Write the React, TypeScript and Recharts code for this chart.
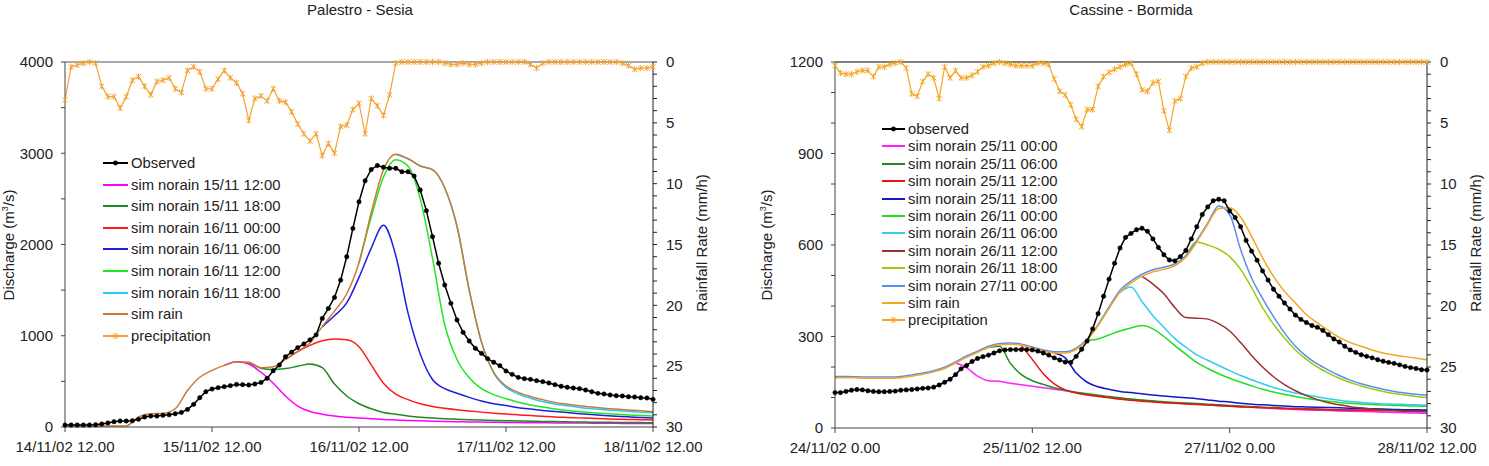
import React from 'react';
import { LineChart, Line, XAxis, YAxis, ReferenceLine } from 'recharts';

const FONT = '"Liberation Sans", Arial, Helvetica, sans-serif';
const TEXT = '#222';

// pads a model run with nulls for the 2-hourly slots before it starts
function after(n: number, values: number[]): (number | null)[] {
  const pad: (number | null)[] = Array.from({ length: n }, () => null);
  return pad.concat(values);
}

// ---------------- Palestro - Sesia (hourly, from 14/11/02 12.00) ----------------
const palestroTickHours = [0, 24, 48, 72, 96];
const palestroTickLabels = ['14/11/02 12.00', '15/11/02 12.00', '16/11/02 12.00', '17/11/02 12.00', '18/11/02 12.00'];

const palestroObserved = [
  22, 22, 22, 22, 22, 25, 33, 44, 58, 66,
  66, 69, 84, 110, 120, 120, 128, 135, 146, 160,
  193, 248, 321, 387, 416, 431, 442, 453, 467, 464,
  460, 471, 489, 533, 617, 679, 770, 820, 870, 910,
  955, 1010, 1190, 1300, 1420, 1610, 1866, 2176, 2468, 2698,
  2822, 2865, 2846, 2835, 2835, 2798, 2798, 2750, 2597, 2371,
  2086, 1794, 1556, 1355, 1173, 1037, 942, 862, 807, 749,
  709, 672, 614, 577, 544, 530, 522, 508, 497, 482,
  464, 446, 435, 427, 420, 405, 387, 369, 362, 351,
  343, 340, 332, 329, 321, 318, 303,
];

const palestroPrecip = [
  3.1, 0.4, 0.25, 0.1, 0, 0.1, 2.0, 2.85, 2.85, 3.8,
  2.85, 1.5, 1.2, 2.0, 2.7, 1.6, 1.5, 1.3, 2.2, 2.5,
  0.7, 0.4, 0.8, 2.2, 2.2, 1.4, 0.7, 1.3, 1.7, 2.6,
  4.8, 3.0, 2.8, 3.2, 2.2, 3.2, 3.3, 4.1, 5.1, 5.9,
  6.5, 5.9, 7.7, 6.7, 7.5, 5.3, 5.2, 3.9, 3.4, 5.9,
  3.0, 3.6, 4.4, 2.7, 0.1, 0, 0, 0, 0, 0,
  0, 0, 0.1, 0.2, 0.2, 0.1, 0.2, 0.2, 0.1, 0,
  0, 0, 0, 0, 0, 0, 0.2, 0.5, 0.1, 0,
  0, 0, 0, 0, 0, 0, 0, 0, 0, 0,
  0, 0.1, 0.3, 0.6, 0.5, 0.5, 0.4,
];

// model runs, one value every 2 hours
const palestroSimRain = [
  10, 10, 10, 10, 10, 12, 110, 145, 150, 200,
  400, 545, 620, 675, 715, 710, 650, 660, 740, 830,
  920, 1100, 1270, 1460, 1800, 2350, 2820, 2990, 2940, 2860,
  2820, 2620, 2200, 1500, 930, 600, 450, 380, 335, 300,
  270, 250, 232, 218, 206, 196, 186, 177, 168,
];
const palestroNorain1512 = after(13, [
  675, 715, 690, 600, 480, 340, 230, 170, 140, 120,
  108, 98, 90, 82, 77, 72, 68, 64, 60, 58,
  56, 54, 52, 50, 48, 47, 46, 45, 44, 43,
  42, 41, 40, 39, 38, 37,
]);
const palestroNorain1518 = after(15, [
  710, 645, 630, 640, 665, 690, 650, 470, 340, 255,
  200, 160, 140, 120, 108, 98, 90, 85, 80, 76,
  72, 69, 66, 64, 61, 59, 57, 55, 53, 52,
  50, 49, 48, 47,
]);
const palestroNorain1600 = after(18, [
  740, 825, 895, 945, 965, 955, 880, 680, 480, 360,
  300, 255, 225, 205, 188, 175, 163, 152, 142, 133,
  125, 118, 110, 105, 100, 95, 90, 86, 83, 80,
  77,
]);
const palestroNorain1606 = after(21, [
  1100, 1220, 1360, 1640, 1960, 2210, 1880, 1250, 800, 520,
  420, 370, 325, 285, 255, 235, 212, 196, 182, 170,
  158, 146, 136, 127, 119, 111, 104, 98,
]);
const palestroNorain1612 = after(24, [
  1800, 2300, 2740, 2930, 2860, 2500, 1850, 1120, 740, 540,
  420, 355, 310, 272, 242, 218, 198, 182, 168, 157,
  147, 139, 132, 126, 120,
]);
const palestroNorain1618 = after(27, [
  2990, 2940, 2860, 2820, 2620, 2200, 1500, 930, 590, 435,
  362, 316, 280, 252, 232, 215, 201, 190, 180, 171,
  163, 155,
]);

// ---------------- Cassine - Bormida (hourly, from 24/11/02 0.00) ----------------
const cassineTickHours = [0, 36, 72, 108];
const cassineTickLabels = ['24/11/02 0.00', '25/11/02 12.00', '27/11/02 0.00', '28/11/02 12.00'];

const cassineObserved = [
  116, 116, 120, 124, 126, 125, 122, 120, 119, 119,
  120, 121, 124, 125, 126, 128, 130, 131, 134, 141,
  150, 160, 175, 194, 205, 218, 228, 234, 239, 246,
  253, 256, 257, 257, 257, 257, 256, 252, 246, 239,
  230, 223, 216, 215, 235, 258, 285, 325, 375, 432,
  488, 540, 590, 625, 638, 650, 655, 645, 620, 592,
  568, 551, 548, 562, 582, 620, 660, 700, 725, 745,
  750, 745, 712, 690, 660, 615, 580, 550, 515, 485,
  455, 432, 410, 390, 370, 356, 346, 336, 330, 320,
  306, 292, 282, 268, 256, 248, 240, 235, 230, 224,
  219, 215, 212, 207, 202, 198, 195, 191, 190,
];

const cassinePrecip = [
  0.3, 0.9, 1.0, 1.0, 0.8, 0.7, 0.7, 1.2, 0.4, 0.4,
  0.2, 0.1, 0, 0.5, 2.6, 2.8, 1.6, 1.0, 1.3, 3.0,
  0.4, 1.3, 0.7, 1.3, 1.3, 1.1, 0.8, 0.4, 0.3, 0.1,
  0, 0.1, 0.2, 0.3, 0.3, 0.3, 0.3, 0.1, 0.1, 0.2,
  1.4, 2.4, 2.7, 3.5, 4.7, 5.3, 3.9, 3.9, 2.0, 1.2,
  0.85, 0.6, 0.4, 0.2, 0.1, 1.0, 2.3, 2.4, 1.7, 1.6,
  4.0, 5.6, 3.2, 3.0, 1.2, 0.5, 0.4, 0.1, 0, 0,
  0, 0, 0, 0, 0, 0, 0, 0, 0, 0,
  0, 0, 0, 0, 0, 0, 0, 0, 0, 0,
  0, 0, 0, 0, 0, 0, 0, 0, 0, 0,
  0, 0, 0, 0, 0, 0, 0, 0, 0,
];

const cassineSimRain = [
  165, 165, 164, 163, 163, 163, 165, 170, 176, 184,
  195, 213, 232, 248, 264, 273, 275, 271, 262, 252,
  246, 246, 258, 288, 335, 392, 445, 475, 497, 512,
  520, 532, 560, 610, 668, 720, 722, 692, 628, 558,
  497, 448, 410, 372, 345, 320, 297, 280, 268, 256,
  246, 239, 234, 229, 224,
];
const cassineNorain2500 = after(11, [
  213, 198, 170, 155, 153, 147, 142, 137, 132, 127,
  122, 116, 111, 106, 101, 97, 93, 90, 87, 84,
  82, 80, 78, 76, 74, 72, 70, 68, 66, 64,
  62, 61, 59, 58, 57, 56, 55, 54, 53, 52,
  51, 50, 49, 48,
]);
const cassineNorain2506 = after(14, [
  264, 268, 212, 175, 155, 143, 132, 124, 117, 112,
  107, 103, 99, 95, 92, 89, 86, 84, 82, 80,
  78, 76, 74, 72, 70, 68, 67, 65, 64, 63,
  62, 61, 60, 59, 58, 58, 57, 57, 56, 56,
  55,
]);
const cassineNorain2512 = after(17, [
  271, 225, 178, 145, 125, 115, 108, 103, 99, 94,
  91, 88, 85, 83, 81, 79, 77, 75, 73, 71,
  69, 68, 66, 65, 64, 63, 62, 61, 60, 59,
  59, 58, 58, 57, 57, 56, 56, 55,
]);
const cassineNorain2518 = after(20, [
  246, 230, 180, 150, 135, 127, 120, 116, 112, 108,
  105, 102, 99, 96, 92, 88, 85, 81, 78, 76,
  74, 72, 70, 69, 68, 67, 66, 65, 64, 63,
  62, 61, 60, 60, 59,
]);
const cassineNorain2600 = after(23, [
  288, 292, 305, 318, 328, 336, 325, 300, 270, 242,
  215, 195, 178, 163, 150, 138, 127, 118, 110, 103,
  97, 92, 88, 84, 81, 79, 77, 75, 74, 73,
  72, 71,
]);
const cassineNorain2606 = after(26, [
  445, 462, 415, 368, 330, 293, 265, 240, 222, 205,
  188, 172, 158, 145, 133, 123, 115, 108, 102, 96,
  91, 87, 84, 81, 79, 78, 77, 76, 75,
]);
const cassineNorain2612 = after(28, [
  497, 472, 440, 395, 362, 360, 357, 342, 318, 280,
  238, 200, 168, 142, 122, 106, 93, 83, 76, 70,
  66, 62, 59, 57, 55, 54, 53,
]);
const cassineNorain2618 = after(32, [
  560, 610, 600, 586, 562, 520, 460, 395, 340, 295,
  256, 225, 200, 180, 163, 149, 138, 128, 120, 113,
  108, 103, 100,
]);
const cassineNorain2700 = [
  169, 169, 168, 167, 167, 167, 169, 174, 180, 188,
  199, 217, 236, 252, 268, 277, 279, 275, 266, 256,
  250, 250, 262, 292, 339, 397, 452, 482, 504, 519,
  527, 538, 565, 615, 672, 728, 700, 585, 492, 425,
  365, 312, 268, 235, 210, 190, 172, 157, 145, 135,
  127, 120, 115, 111, 108,
];

type Sim = { key: string; name: string; color: string; values: (number | null)[] };

const palestroSims: Sim[] = [
  { key: 's1', name: 'sim norain 15/11 12:00', color: '#FF00FF', values: palestroNorain1512 },
  { key: 's2', name: 'sim norain 15/11 18:00', color: '#1F8A1F', values: palestroNorain1518 },
  { key: 's3', name: 'sim norain 16/11 00:00', color: '#FF1A1A', values: palestroNorain1600 },
  { key: 's4', name: 'sim norain 16/11 06:00', color: '#1E1EDC', values: palestroNorain1606 },
  { key: 's5', name: 'sim norain 16/11 12:00', color: '#22E622', values: palestroNorain1612 },
  { key: 's6', name: 'sim norain 16/11 18:00', color: '#22CCF5', values: palestroNorain1618 },
  { key: 'sr', name: 'sim rain', color: '#C97A37', values: palestroSimRain },
];

const cassineSims: Sim[] = [
  { key: 's1', name: 'sim norain 25/11 00:00', color: '#FF22FF', values: cassineNorain2500 },
  { key: 's2', name: 'sim norain 25/11 06:00', color: '#1F8A1F', values: cassineNorain2506 },
  { key: 's3', name: 'sim norain 25/11 12:00', color: '#EE1111', values: cassineNorain2512 },
  { key: 's4', name: 'sim norain 25/11 18:00', color: '#1515CC', values: cassineNorain2518 },
  { key: 's5', name: 'sim norain 26/11 00:00', color: '#22DD22', values: cassineNorain2600 },
  { key: 's6', name: 'sim norain 26/11 06:00', color: '#33CCEE', values: cassineNorain2606 },
  { key: 's7', name: 'sim norain 26/11 12:00', color: '#9B3030', values: cassineNorain2612 },
  { key: 's8', name: 'sim norain 26/11 18:00', color: '#99CC11', values: cassineNorain2618 },
  { key: 's9', name: 'sim norain 27/11 00:00', color: '#5E8CEB', values: cassineNorain2700 },
  { key: 'sr', name: 'sim rain', color: '#F5A623', values: cassineSimRain },
];

type Row = Record<string, number | null>;

function buildRows(observed: number[], precip: number[], sims: Sim[]): Row[] {
  return observed.map((q, h) => {
    const row: Row = { h, obs: q, rain: precip[h] };
    sims.forEach((s) => {
      row[s.key] = h % 2 === 0 ? s.values[h / 2] ?? null : null;
    });
    return row;
  });
}

// Excel-style star marker for the rainfall series
const starDot = (color: string) => (p: any) => {
  const { cx, cy, index } = p;
  if (cx == null || cy == null) return <g key={`st-${index}`} />;
  const r = 2.6;
  return (
    <path
      key={`st-${index}`}
      d={`M${cx - r},${cy - r}L${cx + r},${cy + r}M${cx - r},${cy + r}L${cx + r},${cy - r}M${cx},${cy - r - 0.6}L${cx},${cy + r + 0.6}`}
      stroke={color}
      strokeWidth={1}
      fill="none"
    />
  );
};

interface PanelProps {
  left: number;
  width: number;
  plotLeft: number;
  plotRight: number;
  plotBottom: number;
  title: string;
  titleX: number;
  observedName: string;
  observed: number[];
  precip: number[];
  precipColor: string;
  sims: Sim[];
  xMax: number;
  xTicks: number[];
  xLabels: string[];
  qMax: number;
  qStep: number;
  qLabelStep: number;
  topColor: string;
  legendX: number;
  legendY: number;
  legendStep: number;
  legendLine: number;
  qLabelX: number;
  rainLabelX: number;
}

const tickStyle = { fontSize: 15, fill: TEXT, fontFamily: FONT };

function Panel(p: PanelProps) {
  const rows = buildRows(p.observed, p.precip, p.sims);
  const qTicks: number[] = [];
  for (let v = 0; v <= p.qMax; v += p.qStep) qTicks.push(v);
  const rainTicks = Array.from({ length: 31 }, (_, i) => i);
  const W_LEFT = 60;
  const W_RIGHT = 50;
  const H_X = 30;

  const legendItems = [
    { name: p.observedName, color: '#000', kind: 'obs' },
    ...p.sims.map((s) => ({ name: s.name, color: s.color, kind: 'line' })),
    { name: 'precipitation', color: p.precipColor, kind: 'star' },
  ];

  return (
    <div style={{ position: 'absolute', left: p.left, top: 0, width: p.width, height: 466 }}>
      <div
        style={{
          position: 'absolute', left: p.titleX - p.left, top: 1, transform: 'translateX(-50%)',
          fontSize: 15, color: TEXT, whiteSpace: 'nowrap', fontFamily: FONT,
        }}
      >
        {p.title}
      </div>

      <LineChart
        width={p.width}
        height={466}
        data={rows}
        margin={{
          top: 62,
          left: p.plotLeft - p.left - W_LEFT,
          right: p.left + p.width - p.plotRight - W_RIGHT,
          bottom: 466 - p.plotBottom - H_X,
        }}
      >
        <XAxis
          dataKey="h"
          type="number"
          domain={[0, p.xMax]}
          ticks={p.xTicks}
          interval={0}
          tickFormatter={(v: number) => p.xLabels[p.xTicks.indexOf(v)] ?? ''}
          height={H_X}
          tickSize={5}
          tickMargin={9}
          axisLine={{ stroke: '#444' }}
          tickLine={{ stroke: '#444' }}
          tick={tickStyle}
        />
        <YAxis
          yAxisId="q"
          domain={[0, p.qMax]}
          ticks={qTicks}
          interval={0}
          tickFormatter={(v: number) => (v % p.qLabelStep === 0 ? String(v) : '')}
          width={W_LEFT}
          tickSize={4}
          tickMargin={8}
          axisLine={{ stroke: '#444' }}
          tickLine={{ stroke: '#444' }}
          tick={tickStyle}
        />
        <YAxis
          yAxisId="rain"
          orientation="right"
          reversed
          domain={[0, 30]}
          ticks={rainTicks}
          interval={0}
          tickFormatter={(v: number) => (v % 5 === 0 ? String(v) : '')}
          width={W_RIGHT}
          tickSize={4}
          tickMargin={9}
          axisLine={{ stroke: '#222' }}
          tickLine={{ stroke: '#222' }}
          tick={tickStyle}
        />
        <ReferenceLine yAxisId="q" y={p.qMax} stroke={p.topColor} strokeWidth={1.5} />

        {p.sims.map((s) => (
          <Line
            key={s.key}
            yAxisId="q"
            dataKey={s.key}
            type="monotone"
            stroke={s.color}
            strokeWidth={1.5}
            dot={false}
            activeDot={false}
            connectNulls
            isAnimationActive={false}
          />
        ))}
        <Line
          yAxisId="q"
          dataKey="obs"
          type="linear"
          stroke="#000"
          strokeWidth={1.5}
          dot={{ r: 2.2, fill: '#000', stroke: '#000', strokeWidth: 0.5 }}
          activeDot={false}
          isAnimationActive={false}
        />
        <Line
          yAxisId="rain"
          dataKey="rain"
          type="linear"
          stroke={p.precipColor}
          strokeWidth={1.2}
          dot={starDot(p.precipColor)}
          activeDot={false}
          isAnimationActive={false}
        />
      </LineChart>

      {/* legend */}
      {legendItems.map((it, i) => (
        <div
          key={it.name}
          style={{
            position: 'absolute',
            left: p.legendX - p.left,
            top: p.legendY + i * p.legendStep - 8,
            height: 16,
            display: 'flex',
            alignItems: 'center',
          }}
        >
          <svg width={p.legendLine} height={10} style={{ display: 'block' }}>
            <line x1={0} y1={5} x2={p.legendLine} y2={5} stroke={it.color} strokeWidth={2} />
            {it.kind === 'obs' && <circle cx={p.legendLine / 2} cy={5} r={2.4} fill="#000" />}
            {it.kind === 'star' && (
              <path
                d={`M${p.legendLine / 2 - 2.6},2.4L${p.legendLine / 2 + 2.6},7.6M${p.legendLine / 2 - 2.6},7.6L${p.legendLine / 2 + 2.6},2.4M${p.legendLine / 2},1.8L${p.legendLine / 2},8.2`}
                stroke={it.color}
                strokeWidth={1}
              />
            )}
          </svg>
          <span style={{ marginLeft: 3, fontSize: 14.8, color: TEXT, fontFamily: FONT, whiteSpace: 'nowrap', lineHeight: '16px' }}>
            {it.name}
          </span>
        </div>
      ))}

      {/* axis titles */}
      <div
        style={{
          position: 'absolute', left: p.qLabelX - p.left, top: 245,
          transform: 'translate(-50%, -50%) rotate(-90deg)',
          fontSize: 15, color: TEXT, whiteSpace: 'nowrap', fontFamily: FONT, lineHeight: '16px',
        }}
      >
        Discharge (m<sup style={{ fontSize: 9, lineHeight: 0 }}>3</sup>/s)
      </div>
      <div
        style={{
          position: 'absolute', left: p.rainLabelX - p.left, top: 243,
          transform: 'translate(-50%, -50%) rotate(-90deg)',
          fontSize: 15, color: TEXT, whiteSpace: 'nowrap', fontFamily: FONT, lineHeight: '16px',
        }}
      >
        Rainfall Rate (mm/h)
      </div>
    </div>
  );
}

export default function App() {
  return (
    <div style={{ position: 'absolute', left: 0, top: 0, width: 1489, height: 466, background: '#fff', overflow: 'hidden' }}>
      <Panel
        left={0}
        width={745}
        plotLeft={65}
        plotRight={653}
        plotBottom={427}
        title="Palestro - Sesia"
        titleX={360}
        observedName="Observed"
        observed={palestroObserved}
        precip={palestroPrecip}
        precipColor="#F5A030"
        sims={palestroSims}
        xMax={96}
        xTicks={palestroTickHours}
        xLabels={palestroTickLabels}
        qMax={4000}
        qStep={500}
        qLabelStep={1000}
        topColor="#8c8c8c"
        legendX={103}
        legendY={163}
        legendStep={21.6}
        legendLine={25}
        qLabelX={9}
        rainLabelX={702}
      />
      <Panel
        left={745}
        width={744}
        plotLeft={835}
        plotRight={1427}
        plotBottom={428}
        title="Cassine - Bormida"
        titleX={1131}
        observedName="observed"
        observed={cassineObserved}
        precip={cassinePrecip}
        precipColor="#F5A623"
        sims={cassineSims}
        xMax={108}
        xTicks={cassineTickHours}
        xLabels={cassineTickLabels}
        qMax={1200}
        qStep={100}
        qLabelStep={300}
        topColor="#555"
        legendX={882}
        legendY={129}
        legendStep={17.4}
        legendLine={23}
        qLabelX={767}
        rainLabelX={1476}
      />
    </div>
  );
}
